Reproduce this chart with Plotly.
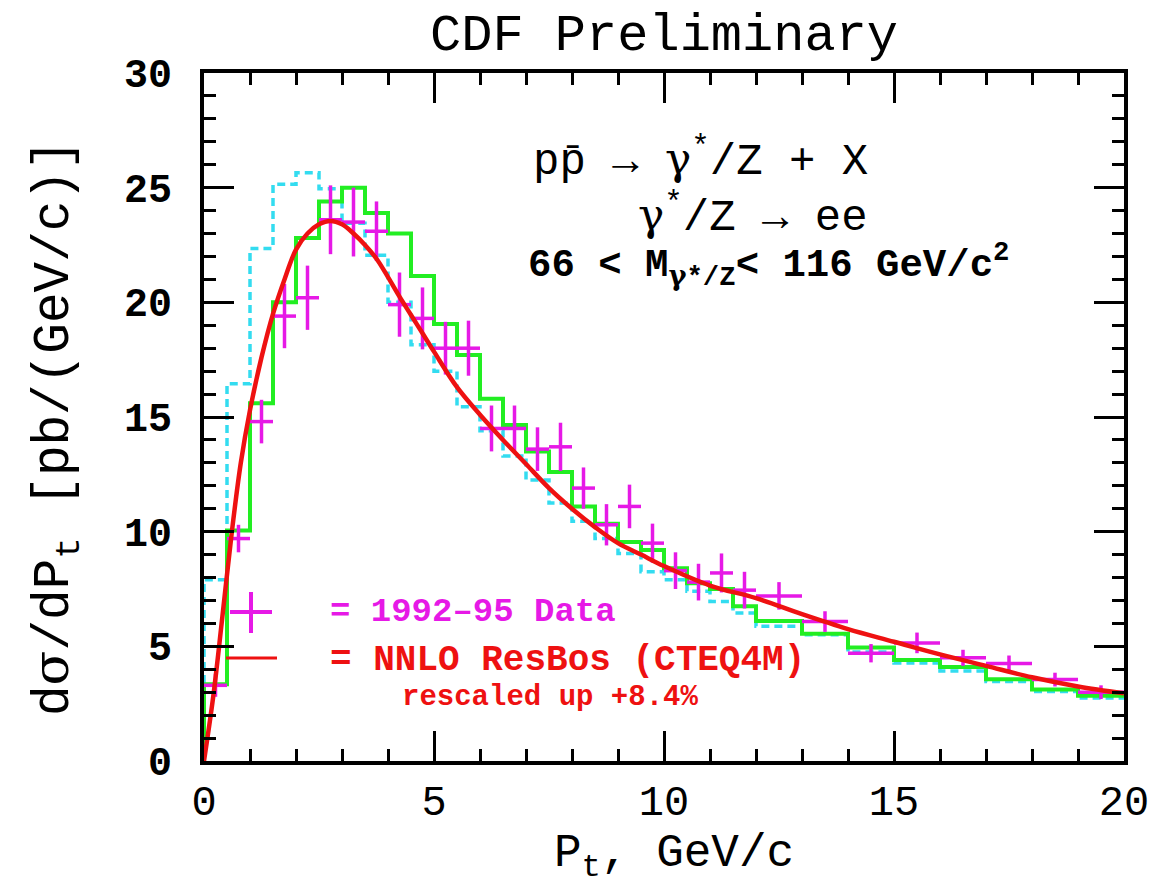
import plotly.graph_objects as go

# ---- data ----
bin_edges = [0, 0.5, 1, 1.5, 2, 2.5, 3, 3.5, 4, 4.5, 5, 5.5, 6, 6.5, 7, 7.5, 8, 8.5,
             9, 9.5, 10, 10.5, 11, 11.5, 12, 13, 14, 15, 16, 17, 18, 19, 20]

green_hist = [3.35, 10.05, 15.6, 20.0, 22.8, 24.4, 25.0, 23.9, 23.0, 21.15, 19.05, 17.7,
              15.8, 14.65, 13.5, 12.6, 11.1, 10.35, 9.55, 9.2, 8.4, 7.75, 7.5, 6.75,
              6.1, 5.55, 4.95, 4.4, 4.1, 3.56, 3.12, 2.85]

cyan_hist = [7.9, 16.45, 22.35, 25.15, 25.65, 24.95, 23.45, 22.05, 20.0, 18.15, 17.0, 15.45,
             14.4, 13.3, 12.25, 11.25, 10.45, 9.7, 9.05, 8.25, 7.9, 7.4, 6.95, 6.45,
             5.88, 5.5, 4.75, 4.27, 3.92, 3.47, 3.03, 2.75]

data_y = [3.3, 9.7, 14.8, 19.4, 20.2, 23.6, 23.5, 23.1, 19.9, 19.3, 18.0, 18.0,
          14.5, 14.5, 13.6, 13.7, 11.9, 10.3, 11.1, 9.5, 8.3, 7.8, 8.2, 7.45,
          7.2, 6.08, 4.7, 5.15, 4.5, 4.25, 3.55, 3.0]
data_err = [0.5, 0.6, 0.95, 1.4, 1.4, 1.5, 1.5, 1.3, 1.4, 1.35, 1.15, 1.2,
            1.0, 1.0, 0.95, 1.05, 0.9, 0.9, 0.95, 0.85, 0.8, 0.8, 0.85, 0.8,
            0.6, 0.45, 0.4, 0.45, 0.35, 0.35, 0.3, 0.3]

theory_x = [0, 0.2, 0.4, 0.6, 0.8, 1.0, 1.25, 1.5, 1.75, 2.0, 2.25, 2.5, 2.75, 3.0,
            3.25, 3.5, 3.75, 4.0, 4.25, 4.5, 4.75, 5.0, 5.5, 6.0, 6.5, 7.0, 7.5, 8.0,
            8.5, 9.0, 9.5, 10.0, 11.0, 12.0, 13.0, 14.0, 15.0, 16.0, 17.0, 18.0, 19.0, 20.0]
theory_y = [0, 2.8, 6.3, 9.9, 13.0, 15.3, 17.6, 19.5, 21.0, 22.3, 23.0, 23.4, 23.55, 23.4,
            23.0, 22.5, 21.9, 21.1, 20.25, 19.45, 18.65, 17.85, 16.3, 15.1, 14.0, 12.95,
            11.9, 11.0, 10.2, 9.5, 9.0, 8.5, 7.65, 7.1, 6.4, 5.75, 5.2, 4.65, 4.15, 3.65,
            3.25, 2.95]

x_ticks = [0, 5, 10, 15, 20]
y_ticks = [0, 5, 10, 15, 20, 25, 30]

# ---- derived ----
centers = [(bin_edges[i] + bin_edges[i + 1]) / 2 for i in range(len(bin_edges) - 1)]
half_w = [(bin_edges[i + 1] - bin_edges[i]) / 2 for i in range(len(bin_edges) - 1)]

def steps(vals):
    xs = [bin_edges[0]] + list(bin_edges)
    ys = [0] + list(vals) + [vals[-1]]
    return xs, ys

MONO = "Liberation Mono, Courier New, monospace"
MAG = "#e619e6"
RED = "#ee1111"
G = '<span style="font-family:DejaVu Serif">\u03b3</span>'
SIG = '<span style="font-family:DejaVu Serif">\u03c3</span>'

fig = go.Figure()

cx, cy = steps(cyan_hist)
fig.add_trace(go.Scatter(x=cx, y=cy, mode="lines", line_shape="hv",
                         line=dict(color="#33dcf0", width=3.5, dash="8px,5px"),
                         hoverinfo="skip", showlegend=False))
gx, gy = steps(green_hist)
fig.add_trace(go.Scatter(x=gx, y=gy, mode="lines", line_shape="hv",
                         line=dict(color="#22ee22", width=4),
                         hoverinfo="skip", showlegend=False))
fig.add_trace(go.Scatter(x=centers, y=data_y, mode="markers",
                         marker=dict(size=1, color=MAG),
                         error_y=dict(type="data", array=data_err, color=MAG, thickness=3.5, width=0),
                         error_x=dict(type="data", array=half_w, color=MAG, thickness=3.5, width=0),
                         showlegend=False))
fig.add_trace(go.Scatter(x=theory_x, y=theory_y, mode="lines", line_shape="spline",
                         line=dict(color=RED, width=4.5), showlegend=False))

axis_common = dict(showline=True, linewidth=4, linecolor="black", mirror="ticks",
                   ticks="inside", ticklen=30, tickwidth=3, tickcolor="black",
                   showgrid=False, zeroline=False,
                   minor=dict(ticks="inside", ticklen=12, tickwidth=3, dtick=1, tickcolor="black"))

fig.update_xaxes(range=[0, 20], tickvals=x_ticks, ticktext=[str(v) for v in x_ticks],
                 tickfont=dict(family=MONO, size=42, color="black"), ticklabelstandoff=0,
                 **axis_common)
fig.update_yaxes(range=[0, 30], tickvals=y_ticks, ticktext=[str(v) for v in y_ticks],
                 tickfont=dict(family=MONO, size=40, color="black", weight="bold"), ticklabelstandoff=20,
                 **axis_common)

W, H = 1160, 885
L, R, T, B = 204, 1124, 73, 761

def px(x):
    return (x - L) / (R - L)

def py(y):
    return (B - y) / (B - T)

annots = [
    dict(text="CDF Preliminary", x=px(664), y=py(36), xanchor="center", yanchor="middle",
         font=dict(family=MONO, size=52, color="black")),
    dict(text="pp\u0304 \u2192 " + G + "<sup>*</sup>/Z + X", x=px(870), y=py(158), xanchor="right", yanchor="middle",
         font=dict(family=MONO, size=44, color="black")),
    dict(text=G + "<sup>*</sup>/Z \u2192 ee", x=px(870), y=py(214), xanchor="right", yanchor="middle",
         font=dict(family=MONO, size=44, color="black")),
    dict(text="66 < M<sub>" + G + "*/Z</sub>< 116 GeV/c<sup>2</sup>", x=px(526), y=py(265), xanchor="left", yanchor="middle",
         font=dict(family=MONO, size=39, color="black", weight="bold")),
    dict(text="= 1992\u201395 Data", x=px(328), y=py(612), xanchor="left", yanchor="middle",
         font=dict(family=MONO, size=34, color=MAG, weight="bold")),
    dict(text="= NNLO ResBos (CTEQ4M)", x=px(328), y=py(660), xanchor="left", yanchor="middle",
         font=dict(family=MONO, size=36, color=RED, weight="bold")),
    dict(text="rescaled up +8.4%", x=px(400), y=py(697), xanchor="left", yanchor="middle",
         font=dict(family=MONO, size=29, color=RED, weight="bold")),
    dict(text="P<sub>t</sub>, GeV/c", x=px(674), y=py(857), xanchor="center", yanchor="middle",
         font=dict(family=MONO, size=46, color="black")),
    dict(text="d" + SIG + "/dP<sub>t</sub> [pb/(GeV/c)]", x=px(56), y=py(428), xanchor="center", yanchor="middle",
         textangle=-90, font=dict(family=MONO, size=51, color="black")),
]
for a in annots:
    a.update(xref="paper", yref="paper", showarrow=False)

shapes = [
    dict(type="line", x0=px(230), x1=px(272), y0=py(612), y1=py(612), line=dict(color=MAG, width=4)),
    dict(type="line", x0=px(251), x1=px(251), y0=py(592), y1=py(633), line=dict(color=MAG, width=4)),
    dict(type="line", x0=px(226), x1=px(277), y0=py(658), y1=py(658), line=dict(color=RED, width=3)),
]
for s in shapes:
    s.update(xref="paper", yref="paper")

fig.update_layout(width=W, height=H, margin=dict(l=L, r=W - R, t=T, b=H - B),
                  plot_bgcolor="white", paper_bgcolor="white",
                  annotations=annots, shapes=shapes, showlegend=False)

fig.write_html("out.html", config={"displayModeBar": False},
               post_script="document.body.style.margin='0px';")
